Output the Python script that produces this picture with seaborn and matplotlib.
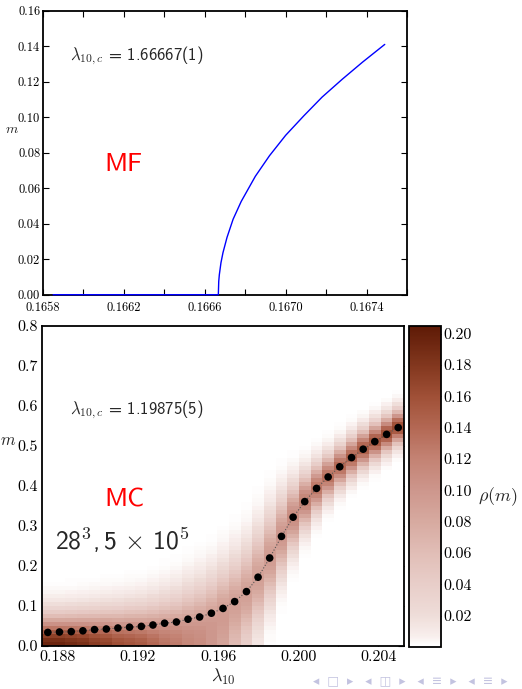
import numpy as np
import matplotlib
matplotlib.use("Agg")
import matplotlib.pyplot as plt
import seaborn as sns
from matplotlib.colors import LinearSegmentedColormap
from matplotlib.ticker import FixedLocator, FuncFormatter

# ---- mean-field magnetisation m(lambda_10) ----
lam_mf = [0.16585, 0.166667, 0.166669, 0.166672, 0.16668, 0.16669, 0.16671,
          0.16674, 0.16678, 0.16685, 0.16692, 0.16700, 0.16709, 0.16718,
          0.16728, 0.16738, 0.16749]
m_mf = [0.0, 0.0, 0.0075, 0.0113, 0.0180, 0.0237, 0.0323,
        0.0425, 0.0525, 0.0667, 0.0783, 0.0898, 0.1008, 0.1113,
        0.1214, 0.1310, 0.1410]

# ---- Monte Carlo: 28^3 lattice, 5x10^5 sweeps ----
lam_mc = [0.18750, 0.18808, 0.18867, 0.18925, 0.18983, 0.19042, 0.19100,
          0.19158, 0.19217, 0.19275, 0.19333, 0.19392, 0.19450, 0.19508,
          0.19567, 0.19625, 0.19683, 0.19742, 0.19800, 0.19858, 0.19917,
          0.19975, 0.20033, 0.20092, 0.20150, 0.20208, 0.20267, 0.20325,
          0.20383, 0.20442, 0.20500]
m_mc = [0.034, 0.035, 0.036, 0.038, 0.041, 0.0425, 0.045, 0.047, 0.049,
        0.0525, 0.057, 0.060, 0.067, 0.0725, 0.082, 0.094, 0.111, 0.136,
        0.172, 0.220, 0.274, 0.322, 0.361, 0.394, 0.4225, 0.448, 0.471,
        0.492, 0.511, 0.529, 0.546]
# histogram of m at each lambda_10: peak position, peak height, spread
rho_center = [0.0, 0.0, 0.0, 0.005, 0.01, 0.012, 0.015, 0.02, 0.022, 0.028,
              0.035, 0.04, 0.05, 0.058, 0.07, 0.085, 0.105, 0.13, 0.17, 0.22,
              0.275, 0.322, 0.362, 0.395, 0.423, 0.449, 0.472, 0.493, 0.512,
              0.53, 0.547]
rho_peak = [0.195, 0.195, 0.19, 0.185, 0.175, 0.17, 0.16, 0.155, 0.15, 0.14,
            0.13, 0.125, 0.115, 0.11, 0.10, 0.095, 0.09, 0.09, 0.09, 0.095,
            0.10, 0.11, 0.12, 0.13, 0.135, 0.14, 0.145, 0.15, 0.155, 0.16,
            0.165]
rho_width = [0.049, 0.049, 0.050, 0.051, 0.052, 0.053, 0.054, 0.055, 0.056,
             0.058, 0.060, 0.062, 0.065, 0.067, 0.069, 0.071, 0.073, 0.074,
             0.074, 0.070, 0.062, 0.052, 0.044, 0.039, 0.035, 0.033, 0.032,
             0.031, 0.030, 0.029, 0.028]
m_bin = 0.01
m_max = 0.8

cbar_ticks = [0.02, 0.04, 0.06, 0.08, 0.10, 0.12, 0.14, 0.16, 0.18, 0.20]

# ---- style ----
sns.set_style("ticks")
plt.rcParams.update({
    "font.family": "serif",
    "font.serif": ["cmr10"],
    "mathtext.fontset": "cm",
    "axes.unicode_minus": False,
    "axes.formatter.use_mathtext": True,
    "axes.linewidth": 1.3,
    "axes.edgecolor": "black",
    "xtick.direction": "in",
    "ytick.direction": "in",
    "xtick.top": True,
    "ytick.right": True,
    "xtick.major.size": 4,
    "ytick.major.size": 4,
    "xtick.color": "black",
    "ytick.color": "black",
})
SANS = ["cmss10", "DejaVu Sans"]

cmap = LinearSegmentedColormap.from_list(
    "rho",
    [(0.00, "#ffffff"), (0.03, "#f8efed"), (0.10, "#eedcd8"),
     (0.20, "#e8cdc8"), (0.29, "#e1beb7"), (0.39, "#d7aaa0"),
     (0.49, "#cd968c"), (0.59, "#c38273"), (0.68, "#b46955"),
     (0.78, "#a05037"), (0.88, "#82371e"), (1.00, "#5e1a06")])

fig = plt.figure(figsize=(5.22, 6.89), dpi=100)
ax_mf = fig.add_axes([0.0824, 0.5723, 0.6973, 0.4122])
ax_mc = fig.add_axes([0.0805, 0.0624, 0.6935, 0.4645])
cax = fig.add_axes([0.7835, 0.0610, 0.0613, 0.4659])

# ---------------- top panel: mean field ----------------
sns.lineplot(x=lam_mf, y=m_mf, ax=ax_mf, color="#0000ff", lw=1.0,
             sort=False, estimator=None, clip_on=False, zorder=3)
ax_mf.set_xlim(0.1658, 0.1676)
ax_mf.set_ylim(0.0, 0.16)
xt = np.round(np.arange(0.1658, 0.16761, 0.0002), 4)
ax_mf.xaxis.set_major_locator(FixedLocator(xt))
ax_mf.xaxis.set_major_formatter(FuncFormatter(
    lambda v, p: f"{v:.4f}" if p % 2 == 0 and v < 0.1675 else ""))
ax_mf.yaxis.set_major_locator(FixedLocator(np.round(np.arange(0, 0.161, 0.02), 2)))
ax_mf.yaxis.set_major_formatter(FuncFormatter(lambda v, p: f"{v:.2f}"))
ax_mf.tick_params(labelsize=9, pad=2)
ax_mf.tick_params(axis="x", pad=5)
ax_mf.set_xlabel("")
ax_mf.set_ylabel(r"$m$", rotation=0, fontsize=10)
ax_mf.yaxis.set_label_coords(-0.085, 0.56)
ax_mf.text(0.074, 0.84, r"$\lambda_{10,c}$ = 1.66667(1)",
           transform=ax_mf.transAxes, fontsize=12, va="center",
           family=SANS, math_fontfamily="cm")
ax_mf.text(0.168, 0.457, "MF", transform=ax_mf.transAxes,
           fontsize=19, color="red", va="center", family=SANS)

# ---------------- bottom panel: Monte Carlo ----------------
lam = np.array(lam_mc)
lam_edges = np.concatenate([[lam[0] - (lam[1] - lam[0]) / 2],
                            (lam[:-1] + lam[1:]) / 2,
                            [lam[-1] + (lam[-1] - lam[-2]) / 2]])
m_edges = np.linspace(0.0, m_max, int(round(m_max / m_bin)) + 1)
m_mid = 0.5 * (m_edges[:-1] + m_edges[1:])
rho = np.empty((m_mid.size, lam.size))
for j, (c, h, w) in enumerate(zip(rho_center, rho_peak, rho_width)):
    p = (np.exp(-0.5 * ((m_mid - c) / w) ** 2)
         + np.exp(-0.5 * ((m_mid + c) / w) ** 2))
    rho[:, j] = h * p / p.max()

mesh = ax_mc.pcolormesh(lam_edges, m_edges, rho, cmap=cmap, vmin=0.0,
                        vmax=0.205, shading="flat", zorder=1)
sns.lineplot(x=lam_mc, y=m_mc, ax=ax_mc, color="#555555", lw=0.8,
             linestyle=":", sort=False, estimator=None, zorder=2)
sns.scatterplot(x=lam_mc, y=m_mc, ax=ax_mc, color="black", s=30,
                edgecolor="none", zorder=3)
ax_mc.set_xlim(lam_edges[0], lam_edges[-1])
ax_mc.set_ylim(0.0, 0.8)
xt2 = np.round(np.arange(0.188, 0.2051, 0.002), 3)
ax_mc.xaxis.set_major_locator(FixedLocator(xt2))
ax_mc.xaxis.set_major_formatter(FuncFormatter(
    lambda v, p: f"{v:.3f}" if p % 2 == 0 else ""))
ax_mc.yaxis.set_major_locator(FixedLocator(np.round(np.arange(0, 0.81, 0.1), 1)))
ax_mc.yaxis.set_major_formatter(FuncFormatter(lambda v, p: f"{v:.1f}"))
ax_mc.tick_params(labelsize=11.5, pad=3)
ax_mc.set_xlabel(r"$\lambda_{10}$", fontsize=13, labelpad=2)
ax_mc.set_ylabel(r"$m$", rotation=0, fontsize=12)
ax_mc.yaxis.set_label_coords(-0.095, 0.62)
ax_mc.text(0.077, 0.7375, r"$\lambda_{10,c}$ = 1.19875(5)",
           transform=ax_mc.transAxes, fontsize=12, va="center",
           family=SANS, math_fontfamily="cm")
ax_mc.text(0.171, 0.456, "MC", transform=ax_mc.transAxes,
           fontsize=19, color="red", va="center", family=SANS)
ax_mc.text(0.036, 0.33, r"28$^{3}$,$\,$5$\,\times\,$10$^{5}$",
           transform=ax_mc.transAxes, fontsize=18.5, va="center",
           family=SANS, math_fontfamily="cm")

# ---------------- colour bar ----------------
cb = fig.colorbar(mesh, cax=cax, ticks=cbar_ticks)
cb.outline.set_linewidth(1.3)
cax.yaxis.set_major_formatter(FuncFormatter(lambda v, p: f"{v:.2f}"))
cax.tick_params(direction="in", left=True, right=True, length=4,
                labelsize=11.5, pad=2)
cax.text(2.15, 0.467, r"$\rho(m)$", transform=cax.transAxes, fontsize=13,
         va="center", ha="left")

# beamer navigation symbols
fig.text(0.60, 0.012, "◂  □  ▸   ◂  ◫  ▸   ◂  ≡  ▸   ◂  ≡  ▸", fontsize=9,
         color="#c3c3e0", family="DejaVu Sans", va="center")

fig.savefig("out.png", dpi=100)
